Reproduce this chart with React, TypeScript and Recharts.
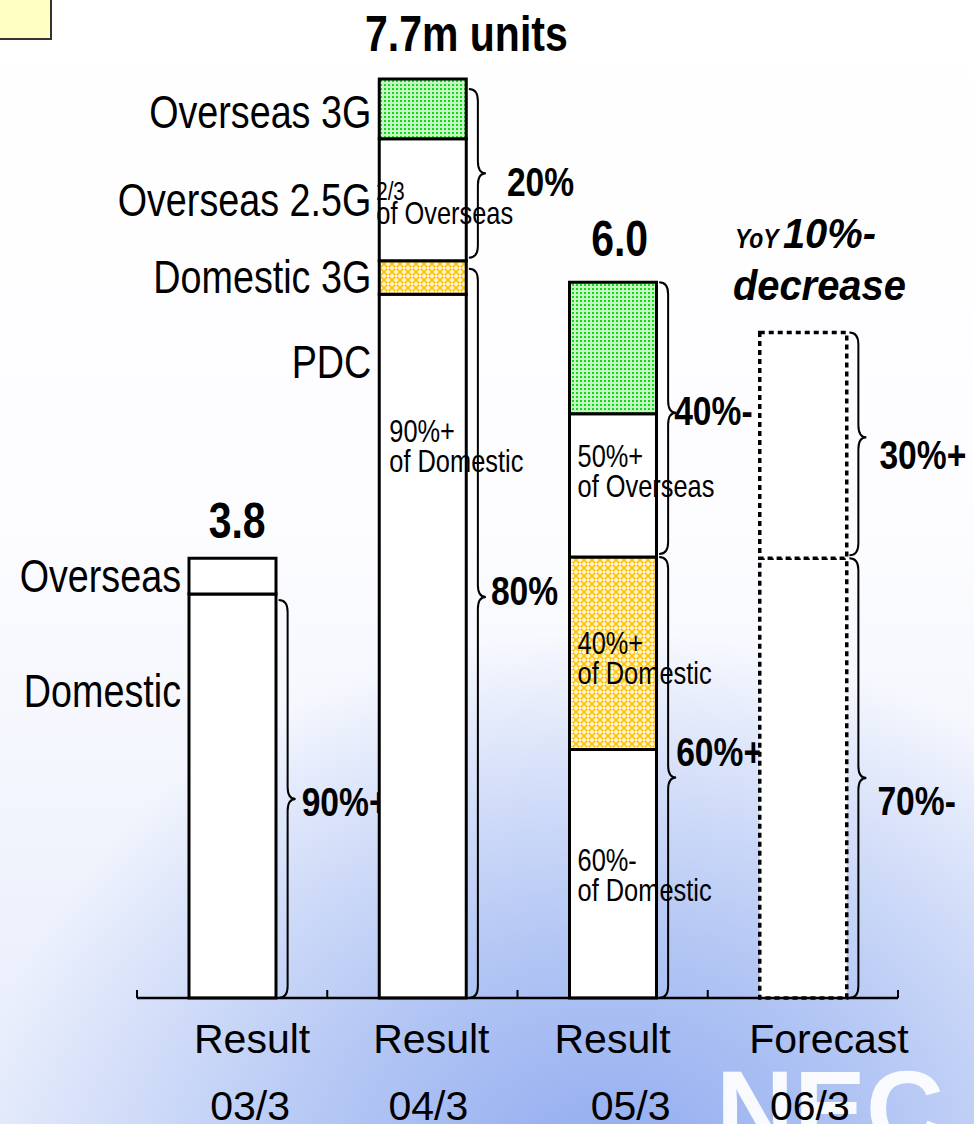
import React from "react";
import { BarChart, Bar, XAxis, YAxis, Cell, LabelList, ReferenceArea, ReferenceDot } from "recharts";

// fiscal periods
const categories = ["03/3", "04/3", "05/3", "06/3"];
const periodKinds = ["Result", "Result", "Result", "Forecast"];

// shipments, million units
const domesticMain = [3.38, 5.89, 2.08, 3.68];
const domestic3G = [0, 0.28, 1.61, 0];
const overseasMain = [0.3, 1.02, 1.2, 1.89];
const overseas3G = [0, 0.5, 1.1, 0];

const totalLabels = ["3.8", "7.7m units", "6.0", ""];

// segment names written left of the bars
const domesticMainNames = ["Domestic", "PDC", "", ""];
const domestic3GNames = ["", "Domestic 3G", "", ""];
const overseasMainNames = ["Overseas", "Overseas 2.5G", "", ""];
const overseas3GNames = ["", "Overseas 3G", "", ""];

// notes written inside the bars
const domesticMainNotes = [[], ["90%+", "of Domestic"], ["60%-", "of Domestic"], []];
const domestic3GNotes = [[], [], ["40%+", "of Domestic"], []];
const overseasMainNotes = [[], ["2/3", "of Overseas"], ["50%+", "of Overseas"], []];

// share braces
const shareCats = ["03/3", "04/3", "04/3", "05/3", "05/3", "06/3", "06/3"];
const shareGroups = ["domestic", "overseas", "domestic", "overseas", "domestic", "overseas", "domestic"];
const shareTexts = ["90%+", "20%", "80%", "40%-", "60%+", "30%+", "70%-"];

const data = categories.map((period, i) => ({
  period,
  domesticMain: domesticMain[i],
  domestic3G: domestic3G[i],
  overseasMain: overseasMain[i],
  overseas3G: overseas3G[i],
}));

const SANS = "'Liberation Sans', Arial, sans-serif";
const BAR = 87;

// where the name sits in its segment (fraction from top)
const nameAnchor: Record<string, number[]> = {
  domesticMain: [0.24, 0.097, 0.5, 0.5],
  domestic3G: [0.5, 0.5, 0.5, 0.5],
  overseasMain: [0.5, 0.5, 0.5, 0.5],
  overseas3G: [0.55, 0.55, 0.5, 0.5],
};
const noteAnchor: Record<string, number[]> = {
  domesticMain: [0.5, 0.21, 0.49, 0.5],
  domestic3G: [0.5, 0.5, 0.505, 0.5],
  overseasMain: [0.5, 0.5, 0.37, 0.5],
};
const noteDx: Record<string, number[]> = {
  domesticMain: [9, 10, 8, 8],
  domestic3G: [8, 8, 8, 8],
  overseasMain: [8, -3, 8, 8],
};
// brace tip position and label offsets
const braceTip = [0.5, 0.5, 0.45, 0.48, 0.5, 0.47, 0.5];
const braceLabelDx = [6, 21, 5, -2, 0, 13, 11];
const braceLabelDy = [2, 8, -7, -3, -27, 17, 22];
const braceInset = [6, 10, 8, 0, 0, 0, 0];

const tickShift1 = [20, 9, 0, 26];
const tickShift2 = [18, 6, 18, 7];

// Arial-Narrow look: Liberation Sans squeezed horizontally
function NText({ x, y, size, anchor, bold, italic, squeeze, children }: any) {
  return (
    <text
      transform={`translate(${x},${y}) scale(${squeeze ?? 0.82},1)`}
      textAnchor={anchor ?? "start"}
      fontSize={size}
      fontFamily={SANS}
      fontWeight={bold ? "bold" : "normal"}
      fontStyle={italic ? "italic" : "normal"}
      fill="#000"
    >
      {children}
    </text>
  );
}

const vb = (p: any) => {
  const v = p.viewBox ?? {};
  return {
    x: Number(v.x ?? p.x),
    y: Number(v.y ?? p.y),
    width: Number(v.width ?? p.width),
    height: Number(v.height ?? p.height),
  };
};

const nameLabel = (names: string[], key: string) => (p: any) => {
  const i = categories.indexOf(p.value);
  if (i < 0 || !names[i]) return null;
  const { x, y, height } = vb(p);
  const cy = y + height * nameAnchor[key][i];
  return (
    <NText x={x - 8} y={cy + 16} size={46} anchor="end">
      {names[i]}
    </NText>
  );
};

const noteLabel = (notes: string[][], key: string) => (p: any) => {
  const i = categories.indexOf(p.value);
  const lines = notes[i];
  if (!lines || lines.length === 0) return null;
  const { x, y, height } = vb(p);
  const base = y + height * noteAnchor[key][i];
  const small = lines[0] === "2/3";
  return (
    <g>
      <NText x={x + noteDx[key][i]} y={base} size={small ? 25 : 31}>{lines[0]}</NText>
      <NText x={x + noteDx[key][i]} y={base + (small ? 24 : 30)} size={31}>{lines[1]}</NText>
    </g>
  );
};

function bracePath(x0: number, x1: number, xt: number, yTop: number, yBot: number, yTip: number) {
  const r = Math.min(12, (yTip - yTop) / 3, (yBot - yTip) / 3);
  return `M${x0},${yTop} Q${x1},${yTop} ${x1},${yTop + r} L${x1},${yTip - r} Q${x1},${yTip} ${xt},${yTip} Q${x1},${yTip} ${x1},${yTip + r} L${x1},${yBot - r} Q${x1},${yBot} ${x0},${yBot}`;
}

const braceShape = (k: number) => (p: any) => {
  const { x, y, width, height } = p;
  const cx = x + width / 2;
  const right = cx + BAR / 2;
  const top = y + braceInset[k];
  const bottom = y + height - (shareGroups[k] === "overseas" ? 3 : 0);
  const tipY = top + (bottom - top) * braceTip[k];
  const x0 = right + 3;
  const x1 = right + 12;
  const xt = right + 20;
  return (
    <g>
      <path d={bracePath(x0, x1, xt, top, bottom, tipY)} fill="none" stroke="#000" strokeWidth={2} />
      <NText x={xt + braceLabelDx[k]} y={tipY + braceLabelDy[k] + 15} size={41} bold>
        {shareTexts[k]}
      </NText>
    </g>
  );
};

const totalDx = [5, 44, 7, 0];
const totalGap = [20, 28, 26, 0];

const totalShape = (i: number) => (p: any) => {
  const { cx, cy } = p;
  if (i === 3) {
    return (
      <g>
        <NText x={cx - 68} y={cy - 84} size={28} bold italic>YoY</NText>
        <NText x={cx - 20} y={cy - 84} size={42} bold italic squeeze={0.95}>10%-</NText>
        <NText x={cx - 70} y={cy - 32} size={42} bold italic squeeze={0.95}>decrease</NText>
      </g>
    );
  }
  return (
    <NText x={cx + totalDx[i]} y={cy - totalGap[i]} size={50} bold anchor="middle">
      {totalLabels[i]}
    </NText>
  );
};

function PeriodTick(props: any) {
  const { x, y, payload } = props;
  const i = categories.indexOf(payload.value);
  const half = payload.offset || 95;
  return (
    <g>
      <line x1={x - half} x2={x - half} y1={y - 8} y2={y} stroke="#000" strokeWidth={2} />
      {i === categories.length - 1 && (
        <line x1={x + half} x2={x + half} y1={y - 8} y2={y} stroke="#000" strokeWidth={2} />
      )}
      <text x={x + tickShift1[i]} y={y + 55} textAnchor="middle" fontSize={41} fontFamily={SANS} fill="#000">
        {periodKinds[i]}
      </text>
      <text x={x + tickShift2[i]} y={y + 122} textAnchor="middle" fontSize={41} fontFamily={SANS} fill="#000">
        {payload.value}
      </text>
    </g>
  );
}

export default function App() {
  const domTotals = categories.map((_, i) => domesticMain[i] + domestic3G[i]);
  const allTotals = categories.map((_, i) => domTotals[i] + overseasMain[i] + overseas3G[i]);

  const dashed = (i: number) => (i === 3 ? "5 4" : undefined);
  const strokeW = (i: number) => (i === 3 ? 3.5 : 3);

  return (
    <div
      style={{
        position: "absolute",
        left: 0,
        top: 0,
        width: 974,
        height: 1124,
        overflow: "hidden",
        background:
          "radial-gradient(ellipse 640px 560px at 610px 1190px, #8ea9ef 0%, #b3c6f4 45%, rgba(225,233,251,0) 100%), linear-gradient(180deg, #ffffff 0%, #fdfdff 45%, #e6ecfb 100%)",
      }}
    >
      <svg width={974} height={1124} style={{ position: "absolute", left: 0, top: 0 }}>
        <defs>
          <pattern id="greenDots" width={4} height={4} patternUnits="userSpaceOnUse">
            <rect width={4} height={4} fill="#c4f5c4" />
            <rect width={2} height={2} fill="#10dc10" />
          </pattern>
          <pattern id="yellowHatch" width={8} height={8} patternUnits="userSpaceOnUse">
            <rect width={8} height={8} fill="#fff4c8" />
            <path d="M0,0 L8,8 M8,0 L0,8" stroke="#ffc410" strokeWidth={1.8} />
            <rect x={3} y={3} width={2} height={2} fill="#fff" />
          </pattern>
        </defs>
        <rect x={-2} y={-2} width={53} height={41} fill="#ffffc4" stroke="#333" strokeWidth={2} />
        <text x={716} y={1146} fontFamily={SANS} fontWeight="bold" fontSize={108} fill="#ffffff" fillOpacity={0.92}>
          NEC
        </text>
      </svg>
      <div style={{ position: "absolute", left: 0, top: 0 }}>
        <BarChart
          width={974}
          height={1124}
          data={data}
          margin={{ top: 42, right: 76, bottom: 0, left: 137 }}
        >
          <XAxis
            dataKey="period"
            height={126}
            axisLine={{ stroke: "#000", strokeWidth: 2.5 }}
            tickLine={false}
            tickSize={0}
            tickMargin={0}
            tick={<PeriodTick />}
            interval={0}
          />
          <YAxis hide width={0} domain={[0, 8]} />
          <Bar dataKey="domesticMain" stackId="a" barSize={BAR} fill="#fff" stroke="#000" strokeWidth={3} isAnimationActive={false}>
            {data.map((_, i) => (
              <Cell key={i} strokeDasharray={dashed(i)} strokeWidth={strokeW(i)} />
            ))}
            <LabelList dataKey="period" content={nameLabel(domesticMainNames, "domesticMain")} />
            <LabelList dataKey="period" content={noteLabel(domesticMainNotes, "domesticMain")} />
          </Bar>
          <Bar dataKey="domestic3G" stackId="a" barSize={BAR} fill="url(#yellowHatch)" stroke="#000" strokeWidth={3} isAnimationActive={false}>
            <LabelList dataKey="period" content={nameLabel(domestic3GNames, "domestic3G")} />
            <LabelList dataKey="period" content={noteLabel(domestic3GNotes, "domestic3G")} />
          </Bar>
          <Bar dataKey="overseasMain" stackId="a" barSize={BAR} fill="#fff" stroke="#000" strokeWidth={3} isAnimationActive={false}>
            {data.map((_, i) => (
              <Cell key={i} strokeDasharray={dashed(i)} strokeWidth={strokeW(i)} />
            ))}
            <LabelList dataKey="period" content={nameLabel(overseasMainNames, "overseasMain")} />
            <LabelList dataKey="period" content={noteLabel(overseasMainNotes, "overseasMain")} />
          </Bar>
          <Bar dataKey="overseas3G" stackId="a" barSize={BAR} fill="url(#greenDots)" stroke="#000" strokeWidth={3} isAnimationActive={false}>
            <LabelList dataKey="period" content={nameLabel(overseas3GNames, "overseas3G")} />
          </Bar>
          {shareCats.map((cat, k) => {
            const i = categories.indexOf(cat);
            const lo = shareGroups[k] === "domestic" ? 0 : domTotals[i];
            const hi = shareGroups[k] === "domestic" ? domTotals[i] : allTotals[i];
            return (
              <ReferenceArea
                key={`b${k}`}
                x1={cat}
                x2={cat}
                y1={lo}
                y2={hi}
                ifOverflow="visible"
                shape={braceShape(k)}
              />
            );
          })}
          {categories.map((cat, i) => (
            <ReferenceDot
              key={`t${i}`}
              x={cat}
              y={allTotals[i]}
              r={1}
              fill="none"
              stroke="none"
              ifOverflow="visible"
              shape={totalShape(i)}
            />
          ))}
        </BarChart>
      </div>
    </div>
  );
}
